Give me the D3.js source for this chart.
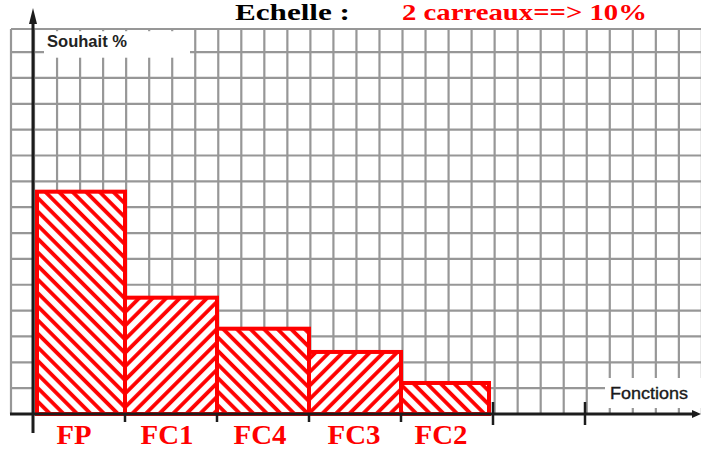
<!DOCTYPE html>
<html>
<head>
<meta charset="utf-8">
<script src="https://cdn.jsdelivr.net/npm/d3@7/dist/d3.min.js"></script>
<style>
  html, body { margin: 0; padding: 0; background: #fff; }
  svg { display: block; }
</style>
</head>
<body>
<div id="chart"></div>
<script>
// ---- data ----
const categories = ["FP", "FC1", "FC4", "FC3", "FC2"];
const values = [43, 22.5, 16.5, 12, 6];           // Souhait %
const hatchDir = ["back", "fwd", "back", "fwd", "back"];
const yGridTicks = d3.range(5, 75, 5);            // one square = 5 %
const titleLeft = "Echelle :";
const titleRight = "2 carreaux==> 10%";
const yLabel = "Souhait %";
const xLabel = "Fonctions";

const W = 701, H = 450;
const svg = d3.select("#chart").append("svg")
  .attr("width", W).attr("height", H)
  .style("font-family", "'Liberation Sans', Arial, sans-serif");

// ---- scales ----
const x0 = 33, y0 = 414;
const x = d3.scaleBand().domain(categories).range([x0, 493]).paddingInner(0).paddingOuter(0);
const y = d3.scaleLinear().domain([0, 70]).range([y0, y0 - 14 * 25.85]);
// small-square grid (vertical lines), one square = 23.03 px wide
const gx = d3.scaleLinear().domain([0, 1]).range([11, 11 + 23.03]);

// ---- patterns ----
const defs = svg.append("defs");
function hatch(id, angle) {
  const p = defs.append("pattern").attr("id", id)
    .attr("patternUnits", "userSpaceOnUse")
    .attr("width", 9.6).attr("height", 9.6)
    .attr("patternTransform", `rotate(${angle})`);
  p.append("rect").attr("width", 9.6).attr("height", 9.6).attr("fill", "#fff");
  p.append("line").attr("x1", 2).attr("x2", 2).attr("y1", 0).attr("y2", 9.6)
    .attr("stroke", "#ff0000").attr("stroke-width", 3.8);
}
hatch("hatch-back", -45);
hatch("hatch-fwd", 45);

// ---- grid ----
const grid = svg.append("g").attr("stroke", "#979797").attr("stroke-width", 2.2);
const gridTop = 29;
d3.range(0, 31).forEach(i => {
  grid.append("line").attr("x1", gx(i)).attr("x2", gx(i))
    .attr("y1", gridTop).attr("y2", y0);
});
grid.append("line").attr("x1", gx(0)).attr("x2", W).attr("y1", gridTop).attr("y2", gridTop);
yGridTicks.forEach(t => {
  grid.append("line").attr("x1", gx(0)).attr("x2", W).attr("y1", y(t)).attr("y2", y(t));
});

// white label boxes
svg.append("rect").attr("x", 44).attr("y", 31.2).attr("width", 146).attr("height", 26.5).attr("fill", "#fff");
svg.append("text").attr("x", 47).attr("y", 46.5)
  .attr("font-size", 16).attr("font-weight", "bold").attr("fill", "#222")
  .attr("textLength", 80).attr("lengthAdjust", "spacingAndGlyphs")
  .text(yLabel);

svg.append("rect").attr("x", 605).attr("y", 378).attr("width", 96).attr("height", 30).attr("fill", "#fff");
svg.append("text").attr("x", 610).attr("y", 399)
  .attr("font-size", 16).attr("fill", "#1a1a1a").attr("stroke", "#1a1a1a").attr("stroke-width", 0.35)
  .attr("textLength", 78).attr("lengthAdjust", "spacingAndGlyphs")
  .text(xLabel);

// ---- bars ----
const last = categories.length - 1;
svg.append("g").selectAll("rect").data(categories).join("rect")
  .attr("x", (d, i) => x(d) + (i === 0 ? 4 : 0))
  .attr("width", (d, i) => x.bandwidth() - (i === 0 ? 4 : 0) - (i === last ? 4 : 0))
  .attr("y", (d, i) => y(values[i]))
  .attr("height", (d, i) => y0 - y(values[i]))
  .attr("fill", (d, i) => `url(#hatch-${hatchDir[i]})`)
  .attr("stroke", "#ff0000").attr("stroke-width", 4);

// ---- axes ----
const ax = svg.append("g").attr("stroke", "#1c1c1c").attr("fill", "#1c1c1c");
// x axis
ax.append("line").attr("x1", 10).attr("x2", W - 4).attr("y1", y0).attr("y2", y0).attr("stroke-width", 3);
ax.append("path").attr("d", `M${W},${y0} L${W - 9},${y0 - 4} L${W - 9},${y0 + 4} Z`).attr("stroke", "none");
// y axis
ax.append("line").attr("x1", x0).attr("x2", x0).attr("y1", 20).attr("y2", 433).attr("stroke-width", 3);
ax.append("path").attr("d", `M${x0},8 L${x0 - 4},24 L${x0 + 4},24 Z`).attr("stroke", "none");
// category boundary ticks
const boundaries = categories.slice(1).map(c => x(c));
boundaries.forEach(b => {
  ax.append("line").attr("x1", b).attr("x2", b).attr("y1", y0).attr("y2", y0 + 8).attr("stroke-width", 2.5);
});
[x.range()[1], x.range()[1] + x.step()].forEach(b => {
  ax.append("line").attr("x1", b).attr("x2", b).attr("y1", y0 - 12).attr("y2", y0 + 11).attr("stroke-width", 2.5);
});

// ---- category labels ----
const labelShift = [-5, -4, -3, -1, -6];
const labelBase = [443.5, 443.5, 443.5, 443.5, 444];
svg.append("g").selectAll("text").data(categories).join("text")
  .attr("x", (d, i) => x(d) + x.bandwidth() / 2 + labelShift[i])
  .attr("y", (d, i) => labelBase[i])
  .attr("text-anchor", "middle")
  .attr("font-family", "'Liberation Serif', 'Times New Roman', serif")
  .attr("font-weight", "bold").attr("font-size", 27).attr("fill", "#ff0000")
  .attr("textLength", d => d.length === 2 ? 35 : 53).attr("lengthAdjust", "spacingAndGlyphs")
  .text(d => d);

// ---- title ----
svg.append("text").attr("x", 235).attr("y", 20)
  .attr("font-family", "'Liberation Serif', 'Times New Roman', serif")
  .attr("font-weight", "bold").attr("font-size", 22.5).attr("fill", "#000")
  .attr("textLength", 115).attr("lengthAdjust", "spacingAndGlyphs")
  .text(titleLeft);
svg.append("text").attr("x", 402).attr("y", 20)
  .attr("font-family", "'Liberation Serif', 'Times New Roman', serif")
  .attr("font-weight", "bold").attr("font-size", 22.5).attr("fill", "#ff0000")
  .attr("textLength", 245).attr("lengthAdjust", "spacingAndGlyphs")
  .text(titleRight);
</script>
</body>
</html>
